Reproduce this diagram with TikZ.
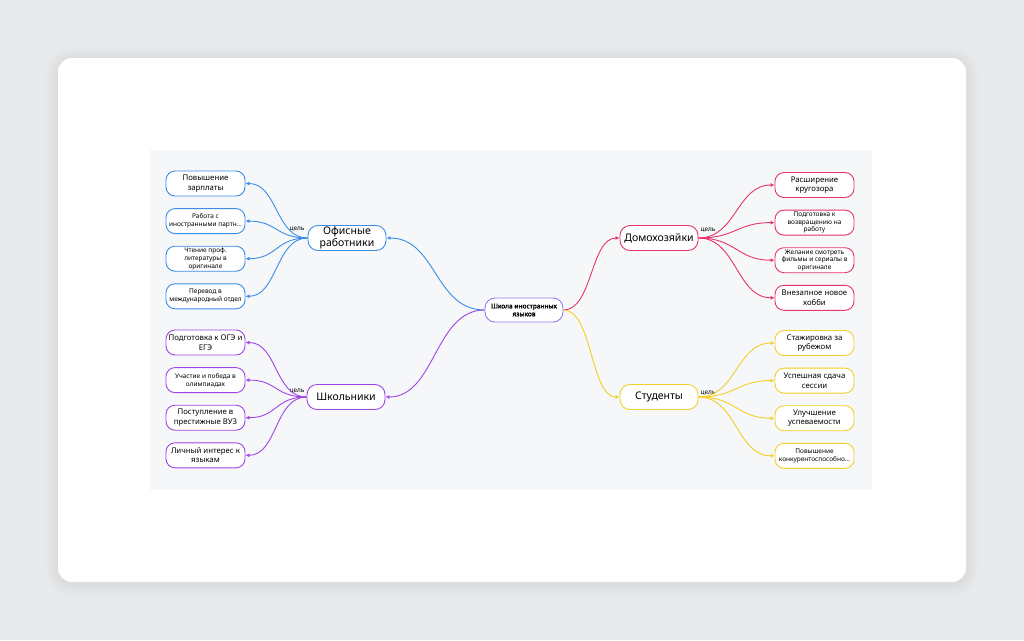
\documentclass[tikz,border=0pt]{standalone}
\usepackage{fontspec}
\setmainfont{Noto Sans}
\newfontfamily\hubfont{Noto Sans}[FakeBold=2]
\usepackage{tikz}
\usetikzlibrary{positioning,arrows.meta}
\definecolor{page}{HTML}{E8E9EB}
\definecolor{canvas}{HTML}{F5F7F9}
\definecolor{core}{HTML}{8F7FF0}
\definecolor{office}{HTML}{3A8EE6}
\definecolor{pupil}{HTML}{A044E6}
\definecolor{house}{HTML}{E8336B}
\definecolor{student}{HTML}{F3D027}
\tikzset{
  hub/.style={rectangle,draw=core,fill=white,rounded corners=10pt,align=center,
    minimum width=78pt,minimum height=24pt,inner sep=1pt,line width=0.9pt,
    font=\hubfont\fontsize{6.6}{7.9}\selectfont},
  branch/.style={rectangle,draw=#1,fill=white,rounded corners=10pt,align=center,
    minimum width=78pt,minimum height=25pt,inner sep=1pt,line width=0.9pt,
    font=\fontsize{10.5}{12.5}\selectfont},
  leaf/.style={rectangle,draw=#1,fill=white,rounded corners=9pt,align=center,
    minimum width=79pt,minimum height=25pt,inner sep=1pt,line width=0.9pt,
    font=\fontsize{7.8}{9.6}\selectfont},
  tiny/.style={font=\fontsize{6.5}{7.7}\selectfont},
  tag/.style={font=\fontsize{6.4}{7.4}\selectfont,inner sep=1pt},
  ln/.style={-{Latex[length=4pt,width=4pt]},draw=#1,line width=0.9pt},
}
\begin{document}
\begin{tikzpicture}[x=1pt,y=-1pt,node distance=11.7pt]
  \fill[page] (0,0) rectangle (1024,640);
  \foreach \d in {2,4,...,12}
    \fill[black,opacity=0.008,rounded corners=14pt+\d pt] (58-\d,58-\d+2) rectangle (966+\d,582+\d+2);
  \fill[white,rounded corners=14pt] (58,58) rectangle (966,582);
  \fill[canvas] (150,150) rectangle (872,490);

  \node[hub] (hub) at (524,310) {Школа иностранных\\языков};
  \node[branch=office] (off) at (347,238) {Офисные\\работники};
  \node[branch=pupil] (sch) at (346,397) {Школьники};
  \node[branch=house] (hw) at (659,238) {Домохозяйки};
  \node[branch=student] (st) at (659,397) {Студенты};

  \node[leaf=office] (o1) at (205.5,183.5) {Повышение\\зарплаты};
  \node[leaf=office,tiny,below=of o1] (o2) {Работа с\\иностранными партн…};
  \node[leaf=office,tiny,below=of o2] (o3) {Чтение проф.\\литературы в\\оригинале};
  \node[leaf=office,tiny,below=of o3] (o4) {Перевод в\\международный отдел};

  \node[leaf=pupil] (p1) at (205.5,342.5) {Подготовка к ОГЭ и\\ЕГЭ};
  \node[leaf=pupil,tiny,below=of p1] (p2) {Участие и победа в\\олимпиадах};
  \node[leaf=pupil,below=of p2] (p3) {Поступление в\\престижные ВУЗ};
  \node[leaf=pupil,below=of p3] (p4) {Личный интерес к\\языкам};

  \node[leaf=house] (h1) at (814.5,185) {Расширение\\кругозора};
  \node[leaf=house,tiny,below=of h1] (h2) {Подготовка к\\возвращению на\\работу};
  \node[leaf=house,tiny,below=of h2] (h3) {Желание смотреть\\фильмы и сериалы в\\оригинале};
  \node[leaf=house,below=of h3] (h4) {Внезапное новое\\хобби};

  \node[leaf=student] (s1) at (814.5,343) {Стажировка за\\рубежом};
  \node[leaf=student,below=of s1] (s2) {Успешная сдача\\сессии};
  \node[leaf=student,below=of s2] (s3) {Улучшение\\успеваемости};
  \node[leaf=student,tiny,below=of s3] (s4) {Повышение\\конкурентоспособно…};

  \node[tag,above left=5pt and 2pt of off.west] (t1) {цель};
  \node[tag,above left=2pt and 1pt of sch.west] (t2) {цель};
  \node[tag,above right=4pt and 1pt of hw.east] (t3) {цель};
  \node[tag,above right=0pt and 1pt of st.east] (t4) {цель};

  \draw[ln=office] (hub.west) .. controls +(-50,0) and +(50,0) .. (off.east);
  \draw[ln=pupil] (hub.west) .. controls +(-50,0) and +(50,0) .. (sch.east);
  \draw[ln=house] (hub.east) .. controls +(29,0) and +(-29,0) .. (hw.west);
  \draw[ln=student] (hub.east) .. controls +(29,0) and +(-29,0) .. (st.west);
  \foreach \i in {1,...,4} {
    \draw[ln=office] (off.west) .. controls +(-32,0) and +(32,0) .. (o\i.east);
    \draw[ln=pupil] (sch.west) .. controls +(-32,0) and +(32,0) .. (p\i.east);
    \draw[ln=house] (hw.east) .. controls +(38,0) and +(-38,0) .. (h\i.west);
    \draw[ln=student] (st.east) .. controls +(38,0) and +(-38,0) .. (s\i.west);
  }
\end{tikzpicture}
\end{document}
